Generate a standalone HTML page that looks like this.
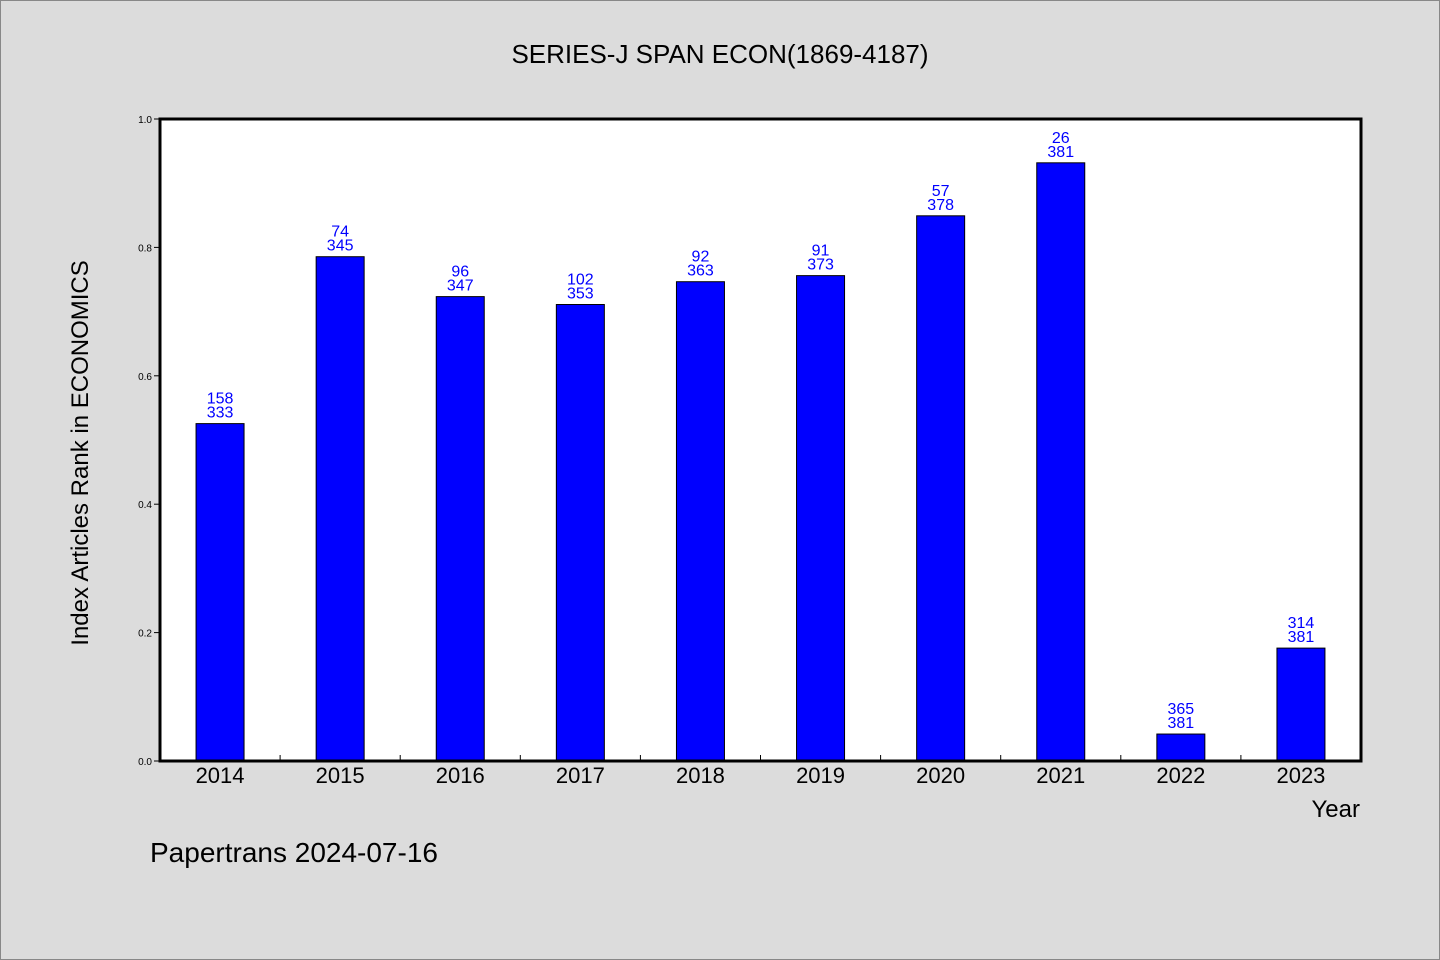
<!DOCTYPE html>
<html><head><meta charset="utf-8"><style>
body{margin:0;background:#dcdcdc;}
svg{display:block;font-family:"WenQuanYi Zen Hei","Liberation Sans",sans-serif;}
</style></head><body>
<svg width="1440" height="960">
<rect x="0.5" y="0.5" width="1439" height="959" fill="#dcdcdc" stroke="#888"/>
<text x="720" y="63" font-size="26" text-anchor="middle">SERIES-J SPAN ECON(1869-4187)</text>
<rect x="160" y="119" width="1201" height="642" fill="#fff"/>
<g id="bars"></g>
<g id="axes"></g>
<rect x="160" y="119" width="1201" height="642" fill="none" stroke="#000" stroke-width="3"/>
<text x="1360" y="817" font-size="24" text-anchor="end">Year</text>
<text transform="translate(88,453) rotate(-90)" font-size="24" text-anchor="middle">Index Articles Rank in ECONOMICS</text>
<text x="150" y="862" font-size="28">Papertrans 2024-07-16</text>
</svg>
<script>
const years=["2014","2015","2016","2017","2018","2019","2020","2021","2022","2023"];
const ranks=[158,74,96,102,92,91,57,26,365,314];
const totals=[333,345,347,353,363,373,378,381,381,381];
const yTicks=[0,0.2,0.4,0.6,0.8,1.0];
const L=160,R=1361,T=119,B=761;
const NS="http://www.w3.org/2000/svg";
const bw=(R-L)/years.length;
const xc=i=>L+bw*(i+0.5);
const y=v=>B-v*(B-T);
const bars=document.getElementById('bars'),axes=document.getElementById('axes');
function mk(tag,attrs,p){const e=document.createElementNS(NS,tag);for(const k in attrs)e.setAttribute(k,attrs[k]);p.appendChild(e);return e;}
years.forEach((yr,i)=>{
 const v=1-ranks[i]/totals[i];
 const r=mk('rect',{x:xc(i)-24,y:y(v),width:48,height:B-y(v),fill:'#0000ff',stroke:'#000','stroke-width':1},bars);
 
 
 const t1=mk('text',{x:xc(i),y:y(v)-20,'font-size':16,fill:'#0000ff','text-anchor':'middle'},bars);
 t1.textContent=ranks[i];
 
 
 const t2=mk('text',{x:xc(i),y:y(v)-6,'font-size':16,fill:'#0000ff','text-anchor':'middle'},bars);
 t2.textContent=totals[i];
 
 
 const xl=mk('text',{x:xc(i),y:783,'font-size':22,'text-anchor':'middle'},axes);
 xl.textContent=yr;
 
 
 if(i>0){const tk=mk('line',{x1:L+bw*i,x2:L+bw*i,y1:B,y2:B-6,stroke:'#000'},axes);
 
 }
});
yTicks.forEach(v=>{
 const tk=mk('line',{x1:L-6,x2:L,y1:y(v),y2:y(v),stroke:'#000'},axes);
 
 
 const tl=mk('text',{x:L-8,y:y(v)+4,'font-size':10,'text-anchor':'end'},axes);
 tl.textContent=v.toFixed(1);
 
 
});
</script>
</body></html>
